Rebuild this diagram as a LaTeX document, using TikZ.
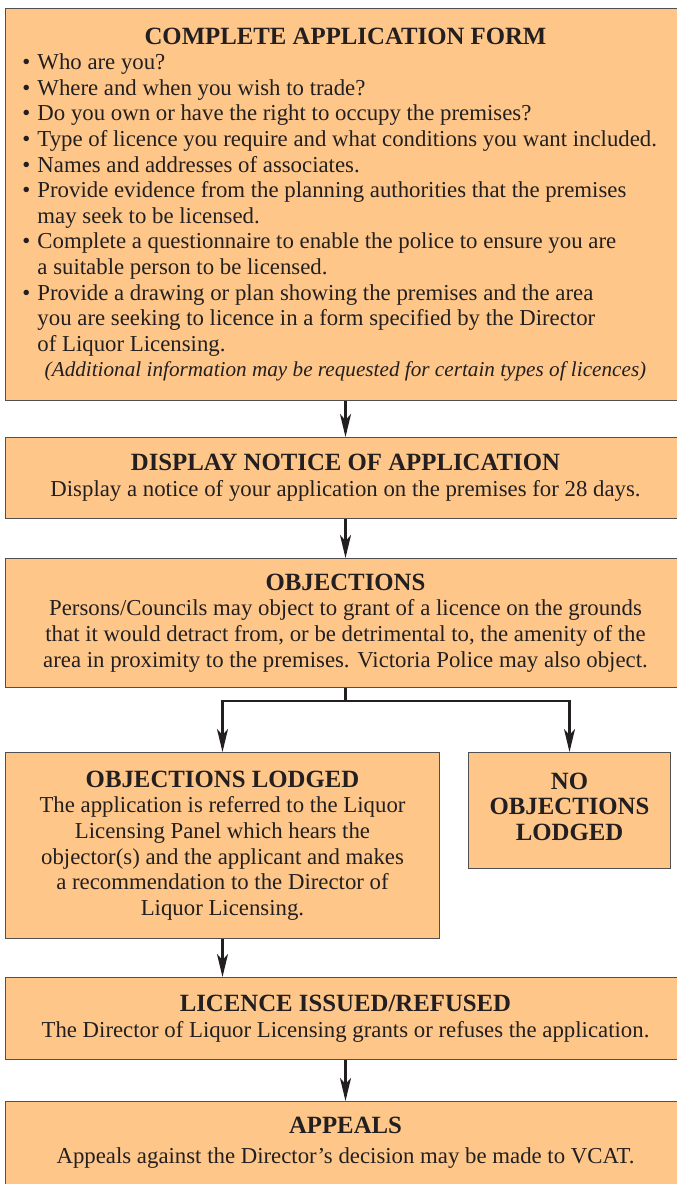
\documentclass[tikz,border=0pt]{standalone}
\usepackage{fontspec}
\setmainfont{Liberation Serif}
\usetikzlibrary{arrows.meta}
\definecolor{boxfill}{RGB}{254,199,137}
\definecolor{framegray}{RGB}{80,80,80}
\definecolor{inkdark}{RGB}{35,31,32}
\newcommand{\bodysize}{\fontsize{22.8pt}{25.6pt}\selectfont}
\newcommand{\headsize}{\fontsize{24.8pt}{25.6pt}\selectfont\bfseries}
\newcommand{\notesize}{\fontsize{21.2pt}{25.6pt}\selectfont\itshape}
\newcommand{\rowl}[1]{\hbox to \hsize{#1\hss}}
\newcommand{\rowc}[1]{\hbox to \hsize{\hss#1\hss}}
\newcommand{\bul}{\hbox to 15pt{\textbullet\hss}}

\begin{document}
\begin{tikzpicture}[x=1pt, y=-1pt,
  box/.style={draw=framegray, line width=1pt, fill=boxfill, rectangle, anchor=north west,
              inner xsep=17pt, inner ysep=0pt, text=inkdark, font=\bodysize},
  flow/.style={draw=inkdark, line width=2.2pt, -{Stealth[length=23pt, width=11pt, inset=6pt]}},
  branchline/.style={draw=inkdark, line width=2.2pt}]

  \useasboundingbox (0,0) rectangle (677,1184);

  % 1. Application form
  \node[box, minimum height=392pt] (form) at (5,8) {\vbox{\hsize=646pt
    \rowc{\headsize COMPLETE APPLICATION FORM}
    \rowl{\bul Who are you?}
    \rowl{\bul Where and when you wish to trade?}
    \rowl{\bul Do you own or have the right to occupy the premises?}
    \rowl{\bul Type of licence you require and what conditions you want included.}
    \rowl{\bul Names and addresses of associates.}
    \rowl{\bul Provide evidence from the planning authorities that the premises}
    \rowl{\hskip15pt may seek to be licensed.}
    \rowl{\bul Complete a questionnaire to enable the police to ensure you are}
    \rowl{\hskip15pt a suitable person to be licensed.}
    \rowl{\bul Provide a drawing or plan showing the premises and the area}
    \rowl{\hskip15pt you are seeking to licence in a form specified by the Director}
    \rowl{\hskip15pt of Liquor Licensing.}
    \rowc{\notesize (Additional information may be requested for certain types of licences)}}};

  % 2. Notice and objections
  \node[box, minimum height=81pt] (display) at (5,437) {\vbox{\hsize=646pt
    \rowc{\headsize DISPLAY NOTICE OF APPLICATION}
    \rowc{Display a notice of your application on the premises for 28 days.}}};

  \node[box, minimum height=129pt] (objections) at (5,558) {\vbox{\hsize=646pt
    \rowc{\headsize OBJECTIONS}
    \rowc{Persons/Councils may object to grant of a licence on the grounds}
    \rowc{that it would detract from, or be detrimental to, the amenity of the}
    \rowc{area in proximity to the premises. Victoria Police may also object.}}};

  % 3. The two branches
  \node[box, minimum height=186pt] (lodged) at (5,752) {\vbox{\hsize=400pt
    \rowc{\headsize OBJECTIONS LODGED}
    \rowc{The application is referred to the Liquor}
    \rowc{Licensing Panel which hears the}
    \rowc{objector(s) and the applicant and makes}
    \rowc{a recommendation to the Director of}
    \rowc{Liquor Licensing.}}};

  \node[box, minimum height=116pt] (noobj) at (468,752) {\vbox{\hsize=168pt
    \rowc{\headsize NO}
    \rowc{\headsize OBJECTIONS}
    \rowc{\headsize LODGED}\vskip8pt}};

  % 4. Decision and appeals
  \node[box, minimum height=82pt] (licence) at (5,977) {\vbox{\hsize=646pt
    \rowc{\headsize LICENCE ISSUED/REFUSED}
    \rowc{The Director of Liquor Licensing grants or refuses the application.}}};

  \node[box, minimum height=90pt] (appeals) at (5,1101) {\vbox{\hsize=646pt
    \rowc{\headsize APPEALS}\vskip4pt
    \rowc{Appeals against the Director's decision may be made to VCAT.}\vskip8pt}};

  % connectors
  \draw[flow] (form) -- (display);
  \draw[flow] (display) -- (objections);
  \draw[branchline] (objections.south) -- ++(0,13) coordinate (split);
  \draw[flow] (split) -| (lodged.north);
  \draw[flow] (split) -| (noobj.north);
  \draw[flow] (lodged.south) -- (lodged.south |- licence.north);
  \draw[flow] (licence) -- (appeals);

\end{tikzpicture}
\end{document}
